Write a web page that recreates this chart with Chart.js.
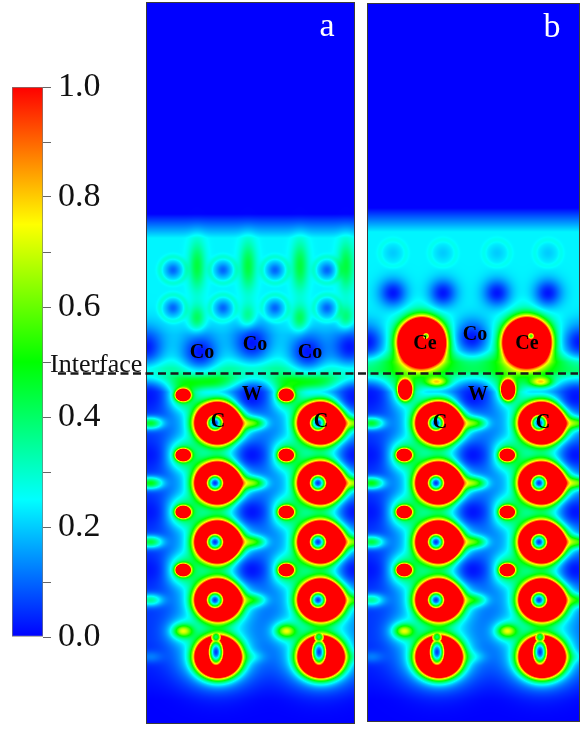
<!DOCTYPE html>
<html>
<head>
<meta charset="utf-8">
<script src="https://cdn.jsdelivr.net/npm/chart.js@4.4.1/dist/chart.umd.min.js"></script>
<style>
  html, body { margin: 0; padding: 0; background: #fff; }
  #stage { position: relative; width: 586px; height: 730px; overflow: hidden; }
  #stage canvas { position: absolute; }
</style>
</head>
<body>
<div id="stage">
  <canvas id="scale" width="146" height="730" style="left:0;top:0"></canvas>
  <canvas id="panelA" width="209" height="722" style="left:146px;top:2px"></canvas>
  <canvas id="panelB" width="213" height="719" style="left:367px;top:3px"></canvas>
  <canvas id="overlay" width="586" height="730" style="left:0;top:0"></canvas>
</div>
<script>
// ELF 色标
const elfTicks = [0, 0.1, 0.2, 0.3, 0.4, 0.5, 0.6, 0.7, 0.8, 0.9, 1.0];
const elfTickLabels = ['0.0', '', '0.2', '', '0.4', '', '0.6', '', '0.8', '', '1.0'];
const jetStops = [0, 0.25, 0.5, 0.75, 1];
const jetColors = [[0, 0, 255], [0, 255, 255], [0, 255, 0], [255, 255, 0], [255, 0, 0]];

const INTERFACE_DEPTH = 373.5;

// WC 基底 (两图共用), x = 面内位置, y = 深度
const carbonX = [71, 174];
const carbonDepth = [423, 483, 542, 600, 657];
const carbonCavityDepth = [652];
const carbonNotchDepth = [637];
const lobeX = [36, 139];
const lobeDepth = [455, 512, 570];
const weakLobeDepth = [631];
const bridgeX = [3, 106, 209];
const bridgeDepth = [423, 483, 542, 600, 657];
const bridgeELF = [0.42, 0.45, 0.4, 0.3, 0.08];
const wSiteX = [0, 105, 208];
const wSiteDepth = [397, 455, 512, 570];

// (a) Co/WC
const aCoX = [-2, 53, 105, 161, 203];
const aCoDepth = [347, 352, 343, 352, 347];
const aRingX = [26, 76, 128, 180];
const aRingDepth = [270, 308];
const aNeckX = [50, 101, 153, 199];
const aNeckDepth = [266, 320];
const aLobeDepth = [395];
const aGlowX = [60, 163];
const aGlowDepth = [382];
const aBgDepth = [3, 214, 238, 335, 356, 368, 378, 392, 640, 700, 723];
const aBgELF = [0, 0, 0.24, 0.24, 0.3, 0.38, 0.32, 0.06, 0.05, 0, 0];
const aLabelText = ['Co', 'Co', 'Co', 'W', 'C', 'C'];
const aLabelX = [55, 108, 163, 105, 71, 174];
const aLabelDepth = [353, 345, 353, 395, 422, 422];

// (b) Co/Ce/WC
const bCeX = [54, 159];
const bCeDepth = [342];
const bCoX = [-1, 104, 212];
const bCoDepth = [342, 338, 342];
const bHoleX = [25, 75, 129, 180];
const bHoleDepth = [293];
const bFaintDepth = [253];
const bLobeX = [37, 140];
const bLobeDepth = [390];
const bSmudgeX = [69, 173];
const bSmudgeDepth = [382];
const bBgDepth = [4, 208, 232, 320, 350, 362, 371, 378, 392, 640, 700, 721];
const bBgELF = [0, 0, 0.24, 0.24, 0.3, 0.46, 0.44, 0.3, 0.06, 0.05, 0, 0];
const bLabelText = ['Co', 'Ce', 'Ce', 'W', 'C', 'C'];
const bLabelX = [107, 57, 159, 110, 72, 175];
const bLabelDepth = [335, 344, 344, 395, 423, 423];

Chart.defaults.font.family = '"Liberation Serif", "Times New Roman", serif';

function jet(v) {
  if (v <= 0) return jetColors[0];
  if (v >= 1) return jetColors[4];
  const k = Math.min(3, Math.floor(v * 4));
  const t = (v - jetStops[k]) / (jetStops[k + 1] - jetStops[k]);
  const a = jetColors[k], b = jetColors[k + 1];
  return [a[0] + (b[0] - a[0]) * t, a[1] + (b[1] - a[1]) * t, a[2] + (b[2] - a[2]) * t];
}

function profile(d, depths, vals) {
  if (d <= depths[0]) return vals[0];
  for (let i = 1; i < depths.length; i++) {
    if (d <= depths[i]) {
      const t = (d - depths[i - 1]) / (depths[i] - depths[i - 1]);
      return vals[i - 1] + (vals[i] - vals[i - 1]) * t;
    }
  }
  return vals[vals.length - 1];
}

const grid = (xs, ds) => xs.flatMap(x => ds.map(d => ({ x, y: d })));
const pair = (xs, ds) => xs.map((x, i) => ({ x, y: ds[i] }));
const shift = (xs, dx) => xs.map(v => v + dx);

// 峰 (叠加), 环 (叠加), 井 (柔和拉低), 孔 (取最小)
const peak = (data, amp, sx, sy) => ({ kind: 'peak', data, amp, sx, sy });
const rim = (data, amp, radius, width) => ({ kind: 'rim', data, amp, sx: radius, sy: width });
const well = (data, v0, sx, sy) => ({ kind: 'well', data, v0, sx, sy });
const dip = (data, v0, sx, sy) => ({ kind: 'dip', data, v0, sx, sy });

function substrate() {
  return [
    peak(grid(carbonX, carbonDepth), 8, 15, 13.5),
    peak(grid(carbonX, carbonDepth), 0.35, 34, 28),
    peak(grid(lobeX, lobeDepth), 4.5, 5.2, 4.2),
    peak(grid(lobeX, lobeDepth), 0.35, 16, 14),
    peak(grid(lobeX, weakLobeDepth), 0.4, 9, 6),
    peak(grid(lobeX, weakLobeDepth), 0.2, 16, 12),
    peak(bridgeX.flatMap(x => bridgeDepth.map((d, i) => ({ x, y: d, amp: bridgeELF[i] }))), 0.4, 12, 6),
    well(grid(wSiteX, wSiteDepth), 0.02, 17, 15),
    dip(grid(shift(carbonX, -3), carbonDepth.slice(0, 4)), 0.06, 9, 9),
    dip(grid(shift(carbonX, -2), carbonCavityDepth), 0.06, 8, 14),
    dip(grid(shift(carbonX, -2), carbonNotchDepth), 0.4, 7, 8)
  ];
}

const panelADatasets = substrate().concat([
  peak(grid(lobeX, aLobeDepth), 4.5, 5.2, 4.2),
  peak(grid(lobeX, aLobeDepth), 0.35, 16, 14),
  peak(grid(aGlowX, aGlowDepth), 0.25, 26, 8),
  peak(grid(aNeckX, aNeckDepth.slice(0, 1)), 0.2, 8, 24),
  peak(grid(aNeckX, aNeckDepth.slice(1)), 0.2, 8, 14),
  rim(grid(aRingX, aRingDepth), 0.06, 13, 3),
  well(grid(aRingX, aRingDepth), 0.1, 7.5, 7.5),
  well(pair(aCoX, aCoDepth), 0.02, 21, 21)
]);

const panelBDatasets = substrate().concat([
  peak(grid(bCeX, bCeDepth), 8, 15.5, 15.5),
  peak(grid(bCeX, bCeDepth), 0.2, 28, 28),
  peak(grid(bLobeX, bLobeDepth), 4, 5, 7),
  peak(grid(bLobeX, bLobeDepth), 0.3, 16, 16),
  peak(grid(bSmudgeX, bSmudgeDepth), 0.5, 11, 5),
  rim(grid(bHoleX, bFaintDepth), 0.03, 13, 3),
  well(grid(bHoleX, bHoleDepth), 0.02, 14, 14),
  well(grid(bHoleX, bFaintDepth), 0.2, 8, 8),
  well(pair(bCoX, bCoDepth), 0.02, 19, 19),
  dip(grid(shift(bCeX, 4), shift(bCeDepth, -6)), 0.55, 5, 5)
]);

// 用图表自身比例尺把数据点换算成像素, 再逐像素着色
function makeField(bgDepth, bgElf) {
  return {
    id: 'elfField',
    beforeDatasetsDraw(chart) {
      const { ctx, chartArea: area, scales: { x, y } } = chart;
      const ux = Math.abs(x.getPixelForValue(1) - x.getPixelForValue(0));
      const uy = Math.abs(y.getPixelForValue(1) - y.getPixelForValue(0));
      const groups = { peak: [], rim: [], well: [], dip: [] };
      chart.data.datasets.forEach((ds, i) => {
        chart.getDatasetMeta(i).data.forEach((el, j) => {
          const raw = ds.data[j];
          groups[ds.kind].push({ px: el.x, py: el.y, sx: ds.sx * ux, sy: ds.sy * uy,
                                 amp: raw.amp !== undefined ? raw.amp : ds.amp, v0: ds.v0 });
        });
      });
      const w = Math.round(area.right - area.left);
      const h = Math.round(area.bottom - area.top);
      const img = ctx.createImageData(w, h);
      for (let r = 0; r < h; r++) {
        const py = area.top + r + 0.5;
        const base = profile(y.getValueForPixel(py), bgDepth, bgElf);
        for (let c = 0; c < w; c++) {
          const px = area.left + c + 0.5;
          let v = base;
          for (const f of groups.peak) {
            const dx = (px - f.px) / f.sx, dy = (py - f.py) / f.sy;
            const d2 = dx * dx + dy * dy;
            if (d2 < 9) v += f.amp * Math.exp(-d2);
          }
          for (const f of groups.rim) {
            const t = (Math.hypot(px - f.px, py - f.py) - f.sx) / f.sy;
            if (t * t < 9) v += f.amp * Math.exp(-t * t);
          }
          for (const f of groups.well) {
            const dx = (px - f.px) / f.sx, dy = (py - f.py) / f.sy;
            const d2 = dx * dx + dy * dy;
            if (d2 < 9) v += (f.v0 - v) * Math.exp(-d2);
          }
          for (const f of groups.dip) {
            const dx = (px - f.px) / f.sx, dy = (py - f.py) / f.sy;
            const hv = f.v0 + dx * dx + dy * dy;
            if (hv < v) v = hv;
          }
          const col = jet(v);
          const o = (r * w + c) * 4;
          img.data[o] = col[0];
          img.data[o + 1] = col[1];
          img.data[o + 2] = col[2];
          img.data[o + 3] = 255;
        }
      }
      ctx.putImageData(img, area.left, area.top);
    }
  };
}

function makeLabels(text, xs, depths, letter, letterX, letterDepth) {
  return {
    id: 'atomLabels',
    afterDatasetsDraw(chart) {
      const { ctx, chartArea: area, scales: { x, y } } = chart;
      ctx.save();
      ctx.font = 'bold 20px "Liberation Serif"';
      ctx.fillStyle = '#000';
      ctx.textAlign = 'center';
      ctx.textBaseline = 'middle';
      text.forEach((t, i) => ctx.fillText(t, x.getPixelForValue(xs[i]), y.getPixelForValue(depths[i])));
      ctx.font = '34px "Liberation Serif"';
      ctx.fillStyle = '#fff';
      ctx.textBaseline = 'alphabetic';
      ctx.fillText(letter, x.getPixelForValue(letterX), y.getPixelForValue(letterDepth));
      ctx.strokeStyle = '#3a3a3a';
      ctx.lineWidth = 1;
      ctx.strokeRect(area.left - 0.5, area.top - 0.5, area.right - area.left + 1, area.bottom - area.top + 1);
      ctx.restore();
    }
  };
}

function panelChart(id, xMax, dMin, dMax, datasets, plugins) {
  return new Chart(document.getElementById(id), {
    type: 'scatter',
    data: { datasets },
    options: {
      responsive: false,
      devicePixelRatio: 1,
      animation: false,
      events: [],
      layout: { padding: 1 },
      plugins: { legend: { display: false }, tooltip: { enabled: false } },
      elements: { point: { radius: 0, hoverRadius: 0 } },
      scales: {
        x: { type: 'linear', min: 0, max: xMax, display: false },
        y: { type: 'linear', min: dMin, max: dMax, reverse: true, display: false }
      }
    },
    plugins
  });
}

const chartA = panelChart('panelA', 207, 3, 723, panelADatasets,
  [makeField(aBgDepth, aBgELF), makeLabels(aLabelText, aLabelX, aLabelDepth, 'a', 180, 36)]);
const chartB = panelChart('panelB', 211, 4, 721, panelBDatasets,
  [makeField(bBgDepth, bBgELF), makeLabels(bLabelText, bLabelX, bLabelDepth, 'b', 184, 37)]);

// 色标
new Chart(document.getElementById('scale'), {
  type: 'bar',
  data: {
    labels: ['ELF'],
    datasets: [{
      data: [[0, 1]],
      backgroundColor: (c) => {
        const { ctx, chartArea } = c.chart;
        if (!chartArea) return '#00f';
        const g = ctx.createLinearGradient(0, chartArea.bottom, 0, chartArea.top);
        jetStops.forEach((s, i) => g.addColorStop(s, 'rgb(' + jetColors[i].join(',') + ')'));
        return g;
      },
      borderColor: '#7a7a7a',
      borderWidth: 1,
      borderSkipped: false,
      barPercentage: 1,
      categoryPercentage: 1
    }]
  },
  options: {
    responsive: false,
    devicePixelRatio: 1,
    animation: false,
    events: [],
    layout: { padding: { left: 12, top: 87, bottom: 93, right: 0 } },
    plugins: { legend: { display: false }, tooltip: { enabled: false } },
    scales: {
      x: { display: false },
      y: {
        position: 'right',
        min: 0,
        max: 1,
        afterBuildTicks: (s) => { s.ticks = elfTicks.map(v => ({ value: v })); },
        afterFit: (s) => { s.width = 103; },
        ticks: {
          callback: (v, i) => elfTickLabels[i],
          color: '#111',
          font: { size: 34 },
          padding: 7
        },
        grid: { drawOnChartArea: false, drawTicks: true, tickLength: 8, color: '#666', lineWidth: 1 },
        border: { display: false }
      }
    }
  }
});

// 界面虚线与标注
const ov = document.getElementById('overlay').getContext('2d');
const yLine = 2 + chartA.scales.y.getPixelForValue(INTERFACE_DEPTH);
ov.save();
ov.strokeStyle = '#1a1a1a';
ov.lineWidth = 2.5;
ov.setLineDash([8, 4.5]);
ov.beginPath();
ov.moveTo(58, yLine);
ov.lineTo(578, yLine);
ov.stroke();
ov.setLineDash([]);
ov.font = '26px "Liberation Serif"';
ov.fillStyle = '#111';
ov.textBaseline = 'alphabetic';
ov.fillText('Interface', 50, 372);
ov.restore();
</script>
</body>
</html>
